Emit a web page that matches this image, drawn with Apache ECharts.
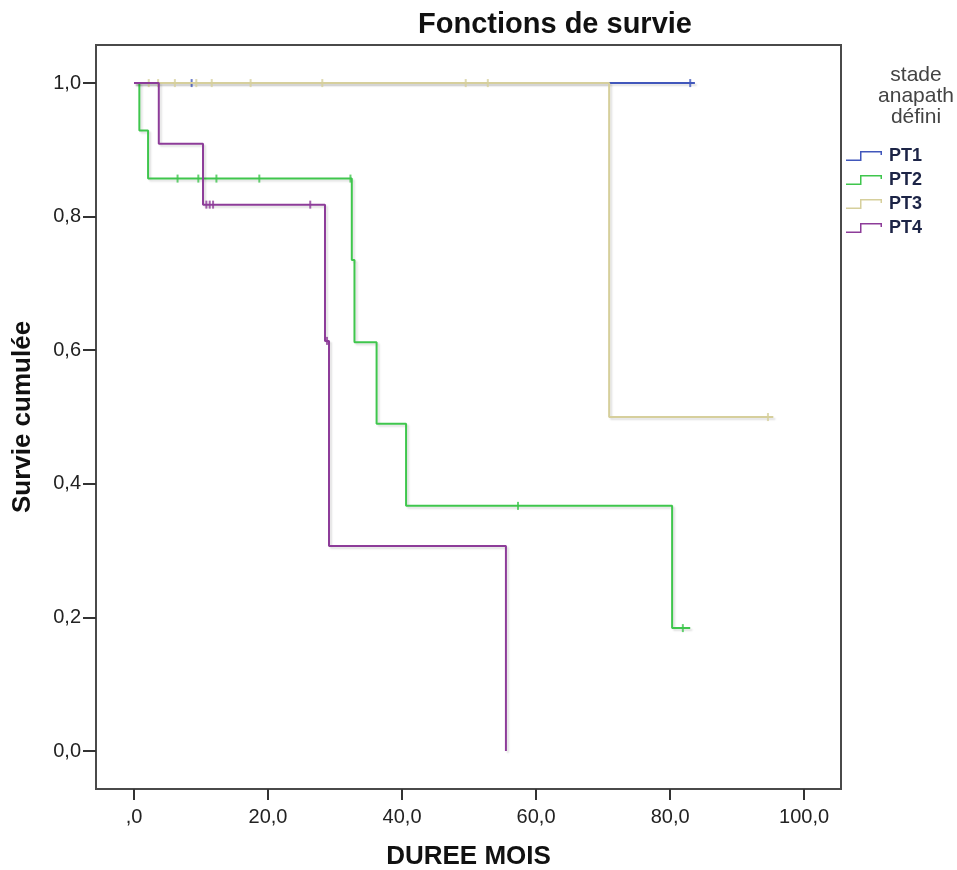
<!DOCTYPE html>
<html>
<head>
<meta charset="utf-8">
<title>Fonctions de survie</title>
<script src="https://cdn.jsdelivr.net/npm/echarts@6/dist/echarts.min.js"></script>
<style>
  html, body { margin: 0; padding: 0; background: #ffffff; }
  #chart { width: 957px; height: 870px; }
</style>
</head>
<body>
<div id="chart"></div>
<script>
// Kaplan-Meier curves by pathological stage (step points: time in months, cumulative survival)
const groups = ['PT1', 'PT2', 'PT3', 'PT4'];
const groupColors = ['#4157bb', '#3fc64d', '#d6cf9c', '#8d3c99'];

const pt1Times = [0, 83.7];
const pt1Surv = [1, 1];
const pt1Censored = [8.6, 83.0];

const pt2Times = [0, 0.8, 2.1, 32.5, 32.9, 36.2, 40.6, 80.3, 83.0];
const pt2Surv = [1, 0.929, 0.857, 0.735, 0.612, 0.490, 0.367, 0.184, 0.184];
const pt2Censored = [6.5, 9.6, 12.3, 18.7, 32.3, 57.3, 81.9];

const pt3Times = [0, 70.9, 95.4];
const pt3Surv = [1, 0.5, 0.5];
const pt3Censored = [2.2, 3.6, 6.1, 9.3, 11.6, 17.4, 28.1, 49.5, 52.8, 94.6];

const pt4Times = [0, 3.7, 10.3, 28.5, 29.1, 55.5];
const pt4Surv = [1, 0.909, 0.818, 0.614, 0.307, 0];
const pt4Censored = [10.8, 11.3, 11.8, 26.3, 28.8];

const xTicks = [0, 20, 40, 60, 80, 100];
const yTicks = [0, 0.2, 0.4, 0.6, 0.8, 1.0];

const curves = [
  { times: pt1Times, surv: pt1Surv, cens: pt1Censored },
  { times: pt2Times, surv: pt2Surv, cens: pt2Censored },
  { times: pt3Times, surv: pt3Surv, cens: pt3Censored },
  { times: pt4Times, surv: pt4Surv, cens: pt4Censored }
];

// survival level of a step curve at time t
function survAt(curve, t) {
  let s = curve.surv[0];
  for (let i = 0; i < curve.times.length; i++) {
    if (curve.times[i] <= t) s = curve.surv[i];
  }
  return s;
}

const series = [];
curves.forEach((c, k) => {
  series.push({
    name: groups[k],
    type: 'line',
    step: 'end',
    showSymbol: false,
    symbol: 'none',
    data: c.times.map((t, i) => [t, c.surv[i]]),
    lineStyle: {
      color: groupColors[k],
      width: 2,
      shadowColor: 'rgba(0,0,0,0.13)',
      shadowBlur: 2,
      shadowOffsetX: 2,
      shadowOffsetY: 2
    },
    itemStyle: { color: groupColors[k] },
    z: 2 + k,
    silent: true
  });
  series.push({
    name: groups[k] + ' censuré',
    type: 'scatter',
    symbol: 'rect',
    symbolSize: [2, 8],
    data: c.cens.map(t => [t, survAt(c, t)]),
    itemStyle: { color: groupColors[k] },
    z: 2 + k,
    silent: true
  });
});

const legendIcon = 'path://M0,8.5 L14,8.5 L14,0 L36,0 L36,4 L34.5,4 L34.5,1.5 L15.5,1.5 L15.5,10 L0,10 Z';

const chart = echarts.init(document.getElementById('chart'), null, { renderer: 'canvas' });
chart.setOption({
  animation: false,
  backgroundColor: '#ffffff',
  textStyle: { fontFamily: 'Liberation Sans, Arial, sans-serif' },
  title: [
    {
      text: 'Fonctions de survie',
      left: 550,
      top: 5,
      textAlign: 'center',
      textStyle: { fontSize: 29, fontWeight: 'bold', color: '#111111', fontFamily: 'Liberation Sans' }
    },
    {
      text: 'stade\nanapath\ndéfini',
      left: 911,
      top: 60,
      textAlign: 'center',
      textStyle: { fontSize: 21, fontWeight: 'normal', color: '#444444', lineHeight: 21, fontFamily: 'Liberation Sans' }
    }
  ],
  legend: {
    data: groups.map(g => ({ name: g, icon: legendIcon })),
    orient: 'vertical',
    left: 841,
    top: 142,
    itemWidth: 36,
    itemHeight: 10,
    itemGap: 6,
    selectedMode: false,
    textStyle: { fontSize: 18, fontWeight: 'bold', color: '#1c2446', fontFamily: 'Liberation Sans', padding: [0, 0, 0, 2] }
  },
  grid: {
    left: 96,
    top: 45,
    right: 957 - 841,
    bottom: 870 - 789,
    outerBoundsMode: 'none',
    containLabel: false,
    show: true,
    borderColor: '#4a4a4a',
    borderWidth: 2,
    backgroundColor: '#ffffff'
  },
  xAxis: {
    type: 'value',
    min: -5.67,
    max: 105.5,
    name: 'DUREE MOIS',
    nameLocation: 'middle',
    nameGap: 55,
    nameTextStyle: { fontSize: 26, fontWeight: 'bold', color: '#111111', fontFamily: 'Liberation Sans' },
    axisLine: { show: false, onZero: false },
    splitLine: { show: false },
    axisTick: { show: true, customValues: xTicks, length: 11, lineStyle: { color: '#333333', width: 2 } },
    axisLabel: {
      customValues: xTicks,
      margin: 18,
      fontSize: 20,
      color: '#222222',
      fontFamily: 'Liberation Sans',
      formatter: v => (v === 0 ? ',0' : v.toFixed(1).replace('.', ','))
    }
  },
  yAxis: {
    type: 'value',
    min: -0.0569,
    max: 1.057,
    name: 'Survie cumulée',
    nameLocation: 'middle',
    nameGap: 60,
    nameTextStyle: { fontSize: 26, fontWeight: 'bold', color: '#111111', fontFamily: 'Liberation Sans' },
    axisLine: { show: false, onZero: false },
    splitLine: { show: false },
    axisTick: { show: true, customValues: yTicks, length: 13, lineStyle: { color: '#333333', width: 2 } },
    axisLabel: {
      customValues: yTicks,
      margin: 15,
      fontSize: 20,
      color: '#222222',
      fontFamily: 'Liberation Sans',
      formatter: v => v.toFixed(1).replace('.', ',')
    }
  },
  series: series
});
</script>
</body>
</html>
